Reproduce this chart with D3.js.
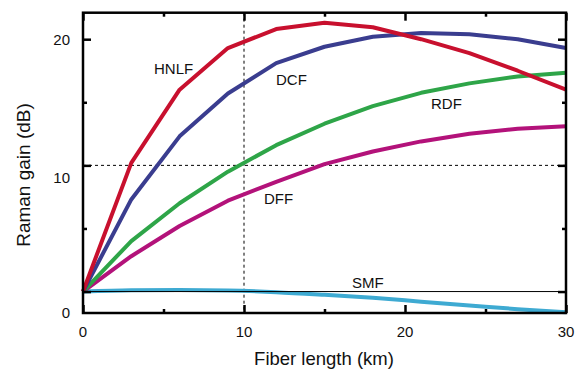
<!DOCTYPE html>
<html>
<head>
<meta charset="utf-8">
<script src="https://cdn.jsdelivr.net/npm/d3@7"></script>
<style>
body{margin:0;background:#fff;}
text{font-family:"Liberation Sans",Arial,sans-serif;fill:#111;}
</style>
</head>
<body>
<script>
// fiber length (km)
var length_km=[0,3,6,9,12,15,18,21,24,27,30];
// raman gain (dB) per fiber
var hnlf=[0,10.2,16.0,19.3,20.8,21.3,20.95,20.0,18.9,17.5,16.0];
var dcf=[0,7.3,12.3,15.7,18.1,19.4,20.2,20.5,20.4,20.0,19.3];
var rdf=[0,4.0,7.0,9.5,11.6,13.3,14.7,15.75,16.5,17.05,17.35];
var dff=[0,2.8,5.2,7.2,8.7,10.1,11.1,11.9,12.5,12.9,13.1];
var smf=[0,0.1,0.12,0.08,-0.05,-0.26,-0.5,-0.8,-1.1,-1.4,-1.65];

var names=['HNLF','DCF','RDF','DFF','SMF'];
var colors=['#c8102e','#3a3d8f','#2ea548','#b3127a','#3eaad2'];

var xTicks=[0,10,20,30];
var xMinor=[5,15,25];
var yTicks=[0,10,20];
var yMinor=[5,15];
// the "10" and "0" labels sit lower than their ticks in the original
var yLabels=['20','10','0'];
var yLabelAt=[20,9.05,-1.7];

var W=579,H=370;
var pLeft=83,pRight=566,pTop=12.7,pBottom=313;

var svg=d3.select('body').append('svg').attr('width',W).attr('height',H);

var x=d3.scaleLinear().domain([0,30]).range([pLeft,pRight]);
var y=d3.scaleLinear().domain([-1.7,22.1]).range([pBottom,pTop]);

// reference lines
svg.append('line')
.attr('x1',x(10)).attr('x2',x(10)).attr('y1',pTop).attr('y2',pBottom)
.style('stroke','#000').style('stroke-width',1).style('stroke-dasharray','3,3');
svg.append('line')
.attr('x1',x(0)).attr('x2',x(30)).attr('y1',y(10)).attr('y2',y(10))
.style('stroke','#000').style('stroke-width',1).style('stroke-dasharray','3,3');

var line=d3.line().x(function(d){return x(d[0]);}).y(function(d){return y(d[1]);});

var series=[hnlf,dcf,rdf,dff,smf];
// draw smf first so others are on top at the start point
for (let i=series.length-1;i>=0;i--){
    var pts=length_km.map(function(v,j){return [v,series[i][j]];});
    svg.append('path')
    .attr('d',i==4 ? line.curve(d3.curveMonotoneX)(pts) : line.curve(d3.curveLinear)(pts))
    .style('fill','none')
    .style('stroke',colors[i])
    .style('stroke-width',4)
    .style('stroke-linejoin','round');
}

// zero line
svg.append('line')
.attr('x1',x(0)).attr('x2',x(30)).attr('y1',y(0)).attr('y2',y(0))
.style('stroke','#000').style('stroke-width',1);

// ticks, pointing inward on all four sides
function ticks(axis,size){
    return axis.tickSize(size).tickFormat('').tickSizeOuter(0);
}
var gAx=[];
gAx.push(svg.append('g').attr('transform','translate('+pLeft+',0)').call(ticks(d3.axisLeft(y).tickValues(yTicks),-8)));
gAx.push(svg.append('g').attr('transform','translate('+pLeft+',0)').call(ticks(d3.axisLeft(y).tickValues(yMinor),-4)));
gAx.push(svg.append('g').attr('transform','translate('+pRight+',0)').call(ticks(d3.axisRight(y).tickValues(yTicks),-8)));
gAx.push(svg.append('g').attr('transform','translate('+pRight+',0)').call(ticks(d3.axisRight(y).tickValues(yMinor),-4)));
gAx.push(svg.append('g').attr('transform','translate(0,'+pBottom+')').call(ticks(d3.axisBottom(x).tickValues(xTicks),-8)));
gAx.push(svg.append('g').attr('transform','translate(0,'+pBottom+')').call(ticks(d3.axisBottom(x).tickValues(xMinor),-4)));
gAx.push(svg.append('g').attr('transform','translate(0,'+pTop+')').call(ticks(d3.axisTop(x).tickValues(xTicks),-8)));
gAx.push(svg.append('g').attr('transform','translate(0,'+pTop+')').call(ticks(d3.axisTop(x).tickValues(xMinor),-4)));
gAx.forEach(function(g){
    g.select('.domain').remove();
    g.selectAll('line').style('stroke','#000').style('stroke-width',2.5);
});

// frame
svg.append('rect')
.attr('x',pLeft).attr('y',pTop).attr('width',pRight-pLeft).attr('height',pBottom-pTop)
.style('fill','none').style('stroke','#000').style('stroke-width',2.5);

// tick labels
for (let i=0;i<xTicks.length;i++){
    svg.append('text').text(xTicks[i])
    .attr('x',x(xTicks[i])).attr('y',336.5)
    .attr('text-anchor','middle').style('font-size','15px');
}
for (let i=0;i<yLabels.length;i++){
    svg.append('text').text(yLabels[i])
    .attr('x',70).attr('y',y(yLabelAt[i])).attr('dy','0.36em')
    .attr('text-anchor','end').style('font-size','15px');
}

// curve names
var labelX=[154,276,431,264,352];
var labelY=[74.3,85,109,204,287.7];
for (let i=0;i<names.length;i++){
    svg.append('text').text(names[i])
    .attr('x',labelX[i]).attr('y',labelY[i])
    .style('font-size','15px');
}

// axis titles
svg.append('text')
.text('Fiber length (km)')
.style('font-size','18.5px')
.attr('x',324).attr('y',365)
.attr('text-anchor','middle');

svg.append('text')
.text('Raman gain (dB)')
.style('font-size','19px')
.attr('text-anchor','middle')
.attr('transform','translate(30,175) rotate(-90)');
</script>
</body>
</html>
